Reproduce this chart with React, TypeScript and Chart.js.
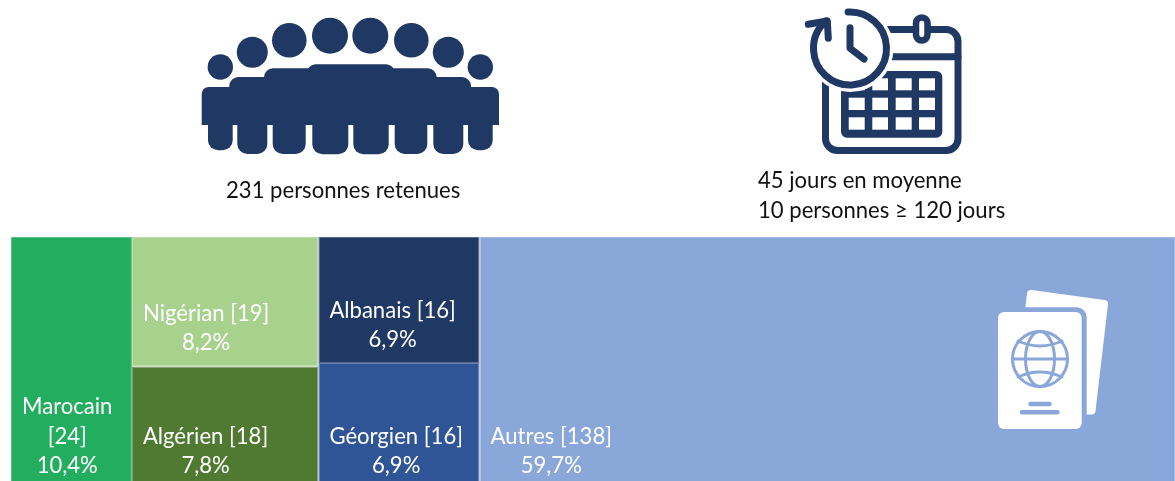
import React, { useEffect, useRef } from "react";
import { Chart, registerables, DatasetController } from "chart.js";

const categories = ["Marocain", "Nigérian", "Algérien", "Albanais", "Géorgien", "Autres"];
const counts = [24, 19, 18, 16, 16, 138];
const shares = ["10,4%", "8,2%", "7,8%", "6,9%", "6,9%", "59,7%"];
const colours = ["#23AE5F", "#A9D18E", "#507A32", "#1F3864", "#2F5597", "#8AA7DA"];
const edgeColours = ["#5AC285", "#BCDCA8", "#7C9C66", "#566A8B", "#6380B1", "#A4BBE3"];
const columns = [[0], [1, 2], [3, 4], [5]];
const wrappedNames = [true, false, false, false, false, false];
const total = 231;
const summaryLeft = "231 personnes retenues";
const summaryRight = ["45 jours en moyenne", "10 personnes ≥ 120 jours"];

const NAVY = "#1F3864";
const LIGHT = "#8AA7DA";
const FONT = "Lato, Carlito, sans-serif";

class TreemapController extends (DatasetController as any) {
  static id = "treemapCells";
  static defaults = { datasetElementType: false, dataElementType: "bar" };
  update(mode: any) {
    const meta = (this as any)._cachedMeta;
    (this as any).updateElements(meta.data, 0, meta.data.length, mode);
  }
  updateElements(rects: any[], start: number, count: number, mode: any) {
    const { xScale, yScale } = (this as any)._cachedMeta;
    const cells = (this as any).getDataset().data;
    for (let i = start; i < start + count; i++) {
      const c = cells[i];
      const left = xScale.getPixelForValue(c.x0);
      const right = xScale.getPixelForValue(c.x1);
      const top = yScale.getPixelForValue(c.y0);
      const bottom = yScale.getPixelForValue(c.y1);
      (this as any).updateElement(
        rects[i],
        i,
        {
          x: (left + right) / 2,
          y: top,
          base: bottom,
          width: right - left,
          height: bottom - top,
          horizontal: false,
          borderSkipped: {},
          enableBorderRadius: false,
          inflateAmount: 0,
          options: (this as any).resolveDataElementOptions(i, mode),
        },
        mode
      );
    }
  }
}

Chart.register(...registerables, TreemapController as any);

function buildCells() {
  const cells: any[] = new Array(categories.length);
  let x = 0;
  columns.forEach((members) => {
    const width = members.reduce((s, i) => s + counts[i], 0);
    let y = 0;
    members.forEach((i) => {
      const h = counts[i] / width;
      cells[i] = { x0: x, x1: x + width, y0: y, y1: y + h };
      y += h;
    });
    x += width;
  });
  return cells;
}

function rr(ctx: CanvasRenderingContext2D, x0: number, y0: number, x1: number, y1: number, r: any) {
  ctx.beginPath();
  ctx.roundRect(x0, y0, x1 - x0, y1 - y0, r);
  ctx.fill();
}

function drawPeople(ctx: CanvasRenderingContext2D) {
  ctx.fillStyle = NAVY;
  const heads = [[220.3, 67, 12.7], [252.3, 52.3, 15.5], [289.3, 40.3, 17.3], [330, 35.7, 18], [370.3, 35.7, 18], [411.3, 40.3, 17.3], [448.3, 52.3, 15.5], [480.3, 67, 12.7]];
  heads.forEach(([x, y, r]) => {
    ctx.beginPath();
    ctx.arc(x, y, r, 0, Math.PI * 2);
    ctx.fill();
  });
  rr(ctx, 201.7, 87, 499, 125, [7, 7, 0, 0]);
  rr(ctx, 229.3, 77, 471, 123.7, [9, 9, 0, 0]);
  rr(ctx, 264, 68.3, 436.7, 123.7, [9, 9, 0, 0]);
  rr(ctx, 306.7, 64.3, 395, 119, [9, 9, 0, 0]);
  const legs = [[208, 232.7, 150.3], [237.3, 267.3, 154], [272.7, 305.7, 154], [312.3, 348.3, 154.3], [353.3, 388.7, 154.3], [394.7, 427.3, 154], [433.3, 463.3, 154], [468, 492.7, 150.3]];
  legs.forEach(([a, b, c]) => rr(ctx, a, 110, b, c, [0, 0, 10, 10]));
}

function drawCalendar(ctx: CanvasRenderingContext2D) {
  ctx.save();
  ctx.strokeStyle = NAVY;
  ctx.fillStyle = NAVY;
  ctx.lineWidth = 7;
  ctx.lineCap = "round";
  ctx.lineJoin = "round";
  ctx.beginPath();
  ctx.roundRect(825.5, 29.5, 132.5, 121, 12);
  ctx.stroke();
  ctx.beginPath();
  ctx.moveTo(880, 56.7);
  ctx.lineTo(958, 56.7);
  ctx.stroke();
  // ring
  ctx.fillStyle = "#fff";
  ctx.beginPath();
  ctx.roundRect(916, 17.5, 11.5, 23, 5.7);
  ctx.fill();
  ctx.lineWidth = 6.5;
  ctx.stroke();
  // grid
  ctx.fillStyle = NAVY;
  rr(ctx, 841, 71, 942.3, 137.7, 6);
  ctx.fillStyle = "#fff";
  [[848.7, 864.7], [872.3, 888], [895.7, 911.7], [919, 935]].forEach(([a, b]) =>
    [[78.3, 90.3], [97.7, 110], [117.3, 129.7]].forEach(([c, d]) => ctx.fillRect(a, c, b - a, d - c))
  );
  // clock
  ctx.beginPath();
  ctx.arc(850, 48.5, 43.5, 0, Math.PI * 2);
  ctx.fill();
  ctx.lineWidth = 7;
  ctx.beginPath();
  ctx.arc(850, 48.5, 36.5, (-93 * Math.PI) / 180, (-131 * Math.PI) / 180);
  ctx.stroke();
  ctx.beginPath();
  ctx.moveTo(808.3, 24.3);
  ctx.lineTo(827.3, 21);
  ctx.lineTo(828.3, 38.3);
  ctx.stroke();
  ctx.beginPath();
  ctx.moveTo(850, 27.7);
  ctx.lineTo(850, 48.3);
  ctx.lineTo(864, 59);
  ctx.stroke();
  ctx.restore();
}

function drawPassport(ctx: CanvasRenderingContext2D) {
  ctx.save();
  ctx.lineJoin = "round";
  ctx.lineCap = "round";
  ctx.fillStyle = "#fff";
  ctx.strokeStyle = "#fff";
  ctx.lineWidth = 8;
  ctx.beginPath();
  ctx.moveTo(1029, 310);
  ctx.lineTo(1031, 294);
  ctx.lineTo(1104, 304);
  ctx.lineTo(1091.5, 410.5);
  ctx.lineTo(1084, 410.5);
  ctx.lineTo(1084, 310);
  ctx.closePath();
  ctx.fill();
  ctx.stroke();
  ctx.fillStyle = LIGHT;
  rr(ctx, 990, 307.3, 1086.7, 434, 10);
  ctx.fillStyle = "#fff";
  rr(ctx, 998, 312, 1081.7, 429, 6);
  // globe
  const cx = 1040, cy = 359, r = 27.5;
  ctx.strokeStyle = LIGHT;
  ctx.lineWidth = 3;
  ctx.beginPath();
  ctx.arc(cx, cy, r, 0, Math.PI * 2);
  ctx.stroke();
  ctx.beginPath();
  ctx.ellipse(cx, cy, 14.5, r, 0, 0, Math.PI * 2);
  ctx.stroke();
  ctx.beginPath();
  ctx.moveTo(cx - r, cy);
  ctx.lineTo(cx + r, cy);
  ctx.stroke();
  ctx.beginPath();
  ctx.moveTo(cx - 22, cy - 18);
  ctx.quadraticCurveTo(cx, cy - 8, cx + 22, cy - 18);
  ctx.stroke();
  ctx.beginPath();
  ctx.moveTo(cx - 22, cy + 18);
  ctx.quadraticCurveTo(cx, cy + 8, cx + 22, cy + 18);
  ctx.stroke();
  ctx.lineWidth = 4.5;
  ctx.beginPath();
  ctx.moveTo(1030.5, 404);
  ctx.lineTo(1049.5, 404);
  ctx.moveTo(1022, 412.3);
  ctx.lineTo(1057.5, 412.3);
  ctx.stroke();
  ctx.restore();
}

const overlay = {
  id: "overlay",
  afterDatasetsDraw(chart: any) {
    const ctx: CanvasRenderingContext2D = chart.ctx;
    ctx.save();
    const rects = chart.getDatasetMeta(0).data;
    ctx.font = `22.1px ${FONT}`;
    ctx.fillStyle = "#fff";
    ctx.textBaseline = "alphabetic";
    ctx.textAlign = "center";
    rects.forEach((el: any, i: number) => {
      const name = `${categories[i]} [${counts[i]}]`;
      const lines = wrappedNames[i] ? [categories[i], `[${counts[i]}]`, shares[i]] : [name, shares[i]];
      const w = Math.max(...lines.map((l) => ctx.measureText(l).width));
      const left = el.x - el.width / 2 + 11;
      const cx = left + w / 2;
      const last = el.base - 16;
      lines.forEach((l, k) => ctx.fillText(l, cx, last - (lines.length - 1 - k) * 29.5));
    });
    ctx.fillStyle = "#111";
    ctx.textAlign = "left";
    ctx.fillText(summaryLeft, 226, 197.7);
    summaryRight.forEach((l, k) => ctx.fillText(l, 758, 188 + k * 29.7));
    drawPeople(ctx);
    drawCalendar(ctx);
    drawPassport(ctx);
    ctx.restore();
  },
};

export default function App() {
  const ref = useRef<HTMLCanvasElement>(null);
  useEffect(() => {
    document.body.style.margin = "0";
    const chart = new Chart(ref.current as any, {
      type: "treemapCells" as any,
      data: {
        labels: categories,
        datasets: [
          {
            data: buildCells(),
            parsing: false,
            backgroundColor: colours,
            borderColor: edgeColours,
            borderWidth: 1,
          } as any,
        ],
      },
      options: {
        responsive: false,
        animation: false,
        layout: { padding: { left: 11, top: 237, right: 0, bottom: 0 } },
        scales: {
          x: { type: "linear", min: 0, max: total, display: false },
          y: { type: "linear", min: 0, max: 1, reverse: true, display: false },
        },
        plugins: { legend: { display: false }, tooltip: { enabled: false }, title: { display: false } },
      },
      plugins: [overlay],
    } as any);
    return () => chart.destroy();
  }, []);
  return (
    <div style={{ width: 1175, height: 481, overflow: "hidden" }}>
      <canvas ref={ref} width={1175} height={489} style={{ display: "block" }} />
    </div>
  );
}
